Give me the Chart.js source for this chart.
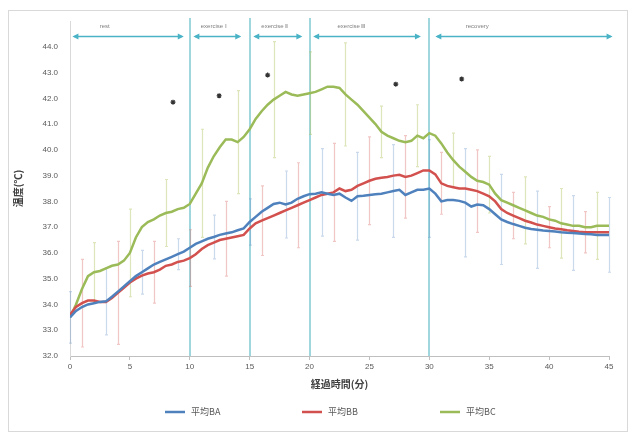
<!DOCTYPE html>
<html>
<head>
<meta charset="utf-8">
<script src="https://cdn.jsdelivr.net/npm/chart.js@4.4.1/dist/chart.umd.min.js"></script>
<style>
  html, body { margin: 0; padding: 0; background: #ffffff; }
  #wrap { position: relative; width: 632px; height: 434px; }
</style>
</head>
<body>
<div id="wrap"><canvas id="c" width="632" height="434"></canvas></div>
<script>
// Elapsed time (minutes) for the averaged temperature traces
const minutes = [
  0,0.5,1,1.5,2,2.5,3,3.5,4,4.5,
  5,5.5,6,6.5,7,7.5,8,8.5,9,9.5,
  10,10.5,11,11.5,12,12.5,13,13.5,14,14.5,
  15,15.5,16,16.5,17,17.5,18,18.5,19,19.5,
  20,20.5,21,21.5,22,22.5,23,23.5,24,24.5,
  25,25.5,26,26.5,27,27.5,28,28.5,29,29.5,
  30,30.5,31,31.5,32,32.5,33,33.5,34,34.5,
  35,35.5,36,36.5,37,37.5,38,38.5,39,39.5,
  40,40.5,41,41.5,42,42.5,43,43.5,44,44.5,
  45
];

const seriesNames = ['平均BA', '平均BB', '平均BC'];

const meanBA = [
  33.5,33.75,33.9,34.0,34.05,34.1,34.12,34.3,34.5,34.7,
  34.9,35.1,35.25,35.4,35.55,35.65,35.75,35.85,35.95,36.05,
  36.2,36.35,36.45,36.55,36.62,36.7,36.75,36.8,36.88,36.95,
  37.2,37.4,37.6,37.75,37.9,37.95,37.88,37.95,38.1,38.2,
  38.28,38.3,38.35,38.3,38.25,38.3,38.15,38.02,38.2,38.22,
  38.25,38.28,38.3,38.35,38.4,38.45,38.25,38.35,38.45,38.45,
  38.5,38.3,38.0,38.05,38.05,38.02,37.95,37.8,37.88,37.85,
  37.7,37.5,37.3,37.2,37.12,37.05,36.98,36.93,36.9,36.87,
  36.85,36.83,36.8,36.78,36.77,36.75,36.73,36.72,36.7,36.7,
  36.7
];

const meanBB = [
  33.6,33.9,34.05,34.15,34.15,34.1,34.1,34.25,34.45,34.65,
  34.85,35.0,35.12,35.2,35.25,35.35,35.5,35.55,35.65,35.7,
  35.8,35.95,36.15,36.3,36.4,36.5,36.55,36.6,36.65,36.7,
  36.95,37.15,37.25,37.35,37.45,37.55,37.65,37.75,37.85,37.95,
  38.05,38.15,38.25,38.3,38.35,38.5,38.4,38.45,38.6,38.7,
  38.8,38.88,38.92,38.95,39.0,39.03,38.95,39.0,39.1,39.2,
  39.2,39.05,38.7,38.6,38.55,38.5,38.5,38.45,38.4,38.3,
  38.2,38.0,37.7,37.55,37.45,37.35,37.25,37.18,37.1,37.05,
  37.0,36.95,36.92,36.88,36.85,36.82,36.8,36.8,36.8,36.8,
  36.8
];

const meanBC = [
  33.5,34.0,34.6,35.1,35.25,35.3,35.4,35.5,35.55,35.7,
  36.0,36.6,37.0,37.2,37.3,37.45,37.55,37.6,37.7,37.75,
  37.9,38.3,38.7,39.3,39.75,40.1,40.4,40.4,40.3,40.5,
  40.8,41.2,41.5,41.75,41.95,42.1,42.25,42.15,42.1,42.15,
  42.2,42.25,42.35,42.45,42.45,42.4,42.15,41.95,41.75,41.5,
  41.25,41.0,40.7,40.55,40.45,40.35,40.3,40.35,40.55,40.45,
  40.65,40.55,40.25,39.9,39.6,39.35,39.15,38.95,38.8,38.75,
  38.65,38.3,38.05,37.95,37.85,37.75,37.65,37.55,37.45,37.4,
  37.3,37.25,37.15,37.1,37.05,37.05,37.0,37.0,37.05,37.05,
  37.05
];

// Standard deviations, staggered every 3 minutes per series
const sdMinutesBA = [0,3,6,9,12,15,18,21,24,27,30,33,36,39,42,45];
const sdBA        = [1.0,1.3,0.85,0.6,0.85,0.9,1.3,1.7,1.7,1.8,1.9,2.1,1.75,1.5,1.45,1.45];
const sdMinutesBB = [1,4,7,10,13,16,19,22,25,28,31,34,37,40,43];
const sdBB        = [1.7,2.0,1.2,1.1,1.45,1.35,1.65,1.9,1.7,1.6,1.2,1.6,0.9,0.8,0.8];
const sdMinutesBC = [2,5,8,11,14,17,20,23,26,29,32,35,38,41,44];
const sdBC        = [1.15,1.7,1.3,2.1,2.0,2.25,1.6,2.0,1.0,1.2,1.05,1.1,1.3,1.35,1.3];

// Significance markers
const sigMinutes = [8.6, 12.45, 16.5, 27.2, 32.7];
const sigTemps   = [41.85, 42.1, 42.9, 42.55, 42.75];

// Protocol phases
const phaseNames = ['rest', 'exercise Ⅰ', 'exercise Ⅱ', 'exercise Ⅲ', 'recovery'];
const phaseFrom  = [0.2, 10.3, 15.3, 20.3, 30.5];
const phaseTo    = [9.5, 14.3, 19.4, 29.3, 45.3];
const phaseBoundaries = [10, 15, 20, 30];

// Axis ticks
const yTickValues = [32,33,34,35,36,37,38,39,40,41,42,43,44];
const xTickValues = [0,5,10,15,20,25,30,35,40,45];

// ---- styling / layout ----
const lineColors = ['#4f81bd', '#d2504d', '#9bbb59'];
const barColors  = ['rgba(79,129,189,0.3)', 'rgba(210,80,77,0.32)', 'rgba(175,195,90,0.42)'];
const phaseLabelAt = [2.9, 12.0, 17.1, 23.5, 34.0];
const arrowLevel = 44.4, phaseLabelLevel = 44.78;
const legendStartX = [165, 302, 440], legendY = 412;
const LATIN = '"Liberation Sans", Arial, sans-serif';
const CJK = '"Noto Sans CJK JP", "Noto Sans CJK SC", sans-serif';

const toPoints = arr => minutes.map((m, i) => ({ x: m, y: arr[i] }));

const errorSets = [
  { at: sdMinutesBA, sd: sdBA, mean: meanBA },
  { at: sdMinutesBB, sd: sdBB, mean: meanBB },
  { at: sdMinutesBC, sd: sdBC, mean: meanBC }
];

const decorations = {
  id: 'decorations',
  beforeDraw(chart) {
    const ctx = chart.ctx;
    ctx.save();
    ctx.fillStyle = '#ffffff';
    ctx.fillRect(0, 0, chart.width, chart.height);
    ctx.strokeStyle = '#d9d9d9';
    ctx.lineWidth = 1;
    ctx.strokeRect(8.5, 10.5, 619, 421);
    ctx.restore();
  },
  beforeDatasetsDraw(chart) {
    const { ctx, chartArea, scales: { x, y } } = chart;
    ctx.save();
    // phase boundaries
    ctx.strokeStyle = 'rgba(120,198,210,0.7)';
    ctx.lineWidth = 2;
    phaseBoundaries.forEach(t => {
      const px = Math.round(x.getPixelForValue(t));
      ctx.beginPath();
      ctx.moveTo(px, chartArea.top - 3);
      ctx.lineTo(px, chartArea.bottom);
      ctx.stroke();
    });
    // error bars
    ctx.lineWidth = 1.2;
    errorSets.forEach((s, k) => {
      ctx.strokeStyle = barColors[k];
      s.at.forEach((t, i) => {
        const m = s.mean[minutes.indexOf(t)];
        const px = Math.round(x.getPixelForValue(t)) + 0.5;
        const top = y.getPixelForValue(m + s.sd[i]);
        const bot = y.getPixelForValue(m - s.sd[i]);
        ctx.beginPath();
        ctx.moveTo(px, top); ctx.lineTo(px, bot);
        ctx.moveTo(px - 1.5, top); ctx.lineTo(px + 1.5, top);
        ctx.moveTo(px - 1.5, bot); ctx.lineTo(px + 1.5, bot);
        ctx.stroke();
      });
    });
    ctx.restore();
  },
  afterDatasetsDraw(chart) {
    const { ctx, scales: { x, y } } = chart;
    ctx.save();
    const ay = Math.round(y.getPixelForValue(arrowLevel)) + 0.5;
    ctx.strokeStyle = '#4bb3c6';
    ctx.fillStyle = '#4bb3c6';
    ctx.lineWidth = 1.3;
    phaseNames.forEach((name, i) => {
      const x0 = x.getPixelForValue(phaseFrom[i]);
      const x1 = x.getPixelForValue(phaseTo[i]);
      ctx.beginPath();
      ctx.moveTo(x0 + 2, ay); ctx.lineTo(x1 - 2, ay);
      ctx.stroke();
      ctx.beginPath();
      ctx.moveTo(x0, ay); ctx.lineTo(x0 + 6, ay - 3); ctx.lineTo(x0 + 6, ay + 3); ctx.closePath();
      ctx.moveTo(x1, ay); ctx.lineTo(x1 - 6, ay - 3); ctx.lineTo(x1 - 6, ay + 3); ctx.closePath();
      ctx.fill();
    });
    ctx.fillStyle = '#7f7f7f';
    ctx.font = '6px ' + LATIN;
    ctx.textAlign = 'center';
    ctx.textBaseline = 'middle';
    phaseNames.forEach((name, i) => {
      ctx.fillText(name, x.getPixelForValue(phaseLabelAt[i]), y.getPixelForValue(phaseLabelLevel));
    });
    ctx.restore();
  },
  afterDraw(chart) {
    const ctx = chart.ctx;
    ctx.save();
    ctx.font = '9px ' + CJK;
    ctx.textBaseline = 'middle';
    ctx.textAlign = 'left';
    seriesNames.forEach((name, i) => {
      const lx = legendStartX[i];
      ctx.strokeStyle = lineColors[i];
      ctx.lineWidth = 2.5;
      ctx.beginPath();
      ctx.moveTo(lx, legendY); ctx.lineTo(lx + 20, legendY);
      ctx.stroke();
      ctx.fillStyle = '#595959';
      ctx.fillText(name, lx + 26, legendY);
    });
    ctx.restore();
  }
};

const lineDataset = (label, arr, k) => ({
  label, data: toPoints(arr),
  borderColor: lineColors[k], backgroundColor: lineColors[k],
  borderWidth: 2.5, pointRadius: 0, tension: 0, fill: false, order: 2
});

new Chart(document.getElementById('c'), {
  type: 'line',
  data: {
    datasets: [
      lineDataset(seriesNames[0], meanBA, 0),
      lineDataset(seriesNames[1], meanBB, 1),
      lineDataset(seriesNames[2], meanBC, 2),
      {
        label: 'significance',
        data: sigMinutes.map((m, i) => ({ x: m, y: sigTemps[i] })),
        showLine: false, pointStyle: 'star', pointRadius: 2.5,
        borderColor: '#333333', backgroundColor: '#333333', borderWidth: 1.2, order: 1
      }
    ]
  },
  options: {
    responsive: false,
    animation: false,
    devicePixelRatio: 1,
    layout: { padding: { left: 8, right: 23, top: 21, bottom: 40 } },
    plugins: { legend: { display: false }, tooltip: { enabled: false } },
    scales: {
      x: {
        type: 'linear', min: 0, max: 45, offset: false,
        afterBuildTicks: axis => { axis.ticks = xTickValues.map(v => ({ value: v })); },
        afterFit: axis => { axis.height = 38; },
        grid: { display: true, drawOnChartArea: false, drawTicks: true, tickLength: 4, color: '#bfbfbf' },
        border: { display: true, color: '#bfbfbf' },
        ticks: { font: { family: LATIN, size: 8 }, color: '#595959', padding: 2, maxRotation: 0 },
        title: { display: true, text: '経過時間(分)', color: '#404040',
                 font: { family: CJK, size: 10, weight: 'bold' }, padding: { top: 4, bottom: 4 } }
      },
      y: {
        min: 32, max: 45,
        afterBuildTicks: axis => { axis.ticks = yTickValues.map(v => ({ value: v })); },
        afterFit: axis => { axis.width = 62; },
        grid: { display: false, drawTicks: false },
        border: { display: true, color: '#d9d9d9' },
        ticks: { font: { family: LATIN, size: 8 }, color: '#595959', padding: 12,
                 callback: v => Number(v).toFixed(1) },
        title: { display: true, text: '温度(℃)', color: '#404040',
                 font: { family: CJK, size: 10, weight: 'bold' }, padding: { top: 4, bottom: 2 } }
      }
    }
  },
  plugins: [decorations]
});
</script>
</body>
</html>
